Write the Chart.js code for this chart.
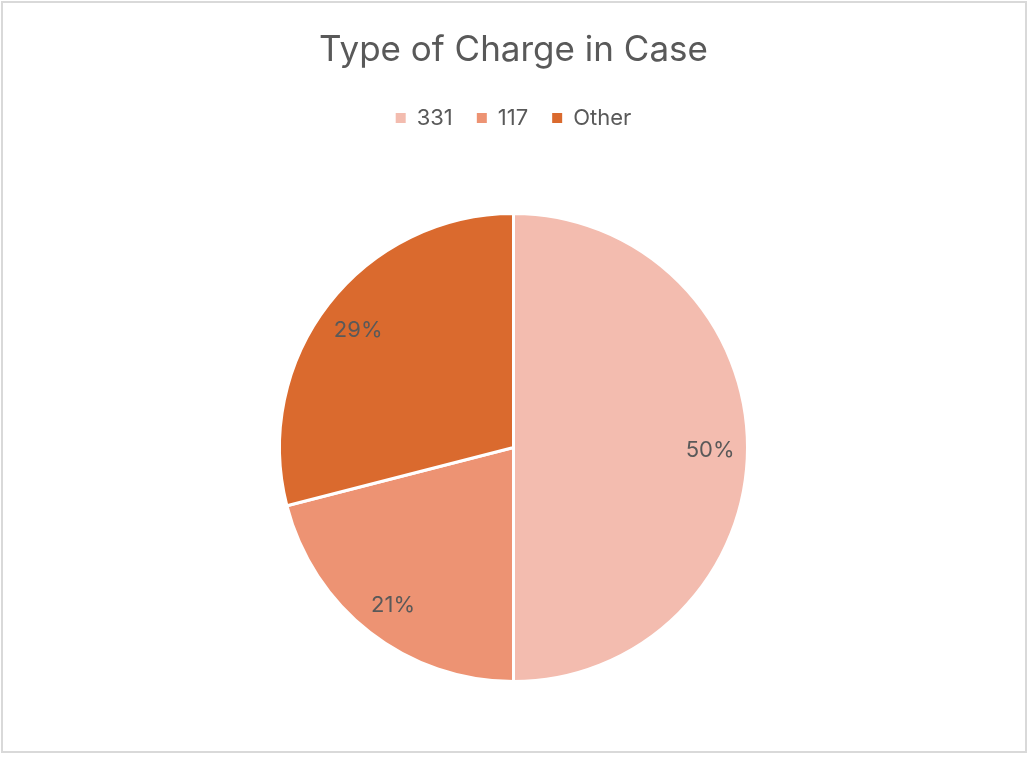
<!DOCTYPE html>
<html>
<head>
<meta charset="utf-8">
<script src="https://cdn.jsdelivr.net/npm/chart.js@4.4.1/dist/chart.umd.min.js"></script>
<style>
  body { margin: 0; background: #fff; }
  #frame {
    position: absolute; left: 1px; top: 1px; width: 1026px; height: 752px;
    box-sizing: border-box; border: 2px solid #d9d9d9;
  }
  #wrap { position: absolute; left: 0; top: 0; width: 1030px; height: 757px; }
</style>
</head>
<body>
<div id="frame"></div>
<div id="wrap"><canvas id="chart"></canvas></div>
<script>
const categories = ["331", "117", "Other"];
const shares = [50, 21, 29]; // percent of cases
const sliceColors = ["#F3BCAF", "#ED9373", "#DA6A2E"];

const TEXT = "#595959";
const FONT = "Inter, 'Open Sans', sans-serif";

// percentage labels placed inside each slice
const sliceLabels = {
    id: "sliceLabels",
    afterDatasetsDraw(chart) {
        const ctx = chart.ctx;
        const meta = chart.getDatasetMeta(0);
        const total = shares.reduce((a, b) => a + b, 0);
        ctx.save();
        ctx.font = "22px " + FONT;
        ctx.fillStyle = TEXT;
        ctx.textAlign = "center";
        ctx.textBaseline = "middle";
        meta.data.forEach((arc, i) => {
            const p = arc.getProps(["x", "y", "startAngle", "endAngle", "outerRadius"], true);
            const mid = (p.startAngle + p.endAngle) / 2;
            const r = p.outerRadius * 0.84;
            const pct = Math.round(shares[i] / total * 100) + "%";
            // +3 nudges the digits' visual centre onto the anchor point
            ctx.fillText(pct, p.x + Math.cos(mid) * r, p.y + Math.sin(mid) * r + 3);
        });
        ctx.restore();
    }
};

new Chart(document.getElementById("chart"), {
    type: "pie",
    data: {
        labels: categories,
        datasets: [{
            data: shares,
            backgroundColor: sliceColors,
            borderColor: "#ffffff",
            borderWidth: 3,
        }],
    },
    options: {
        responsive: true,
        maintainAspectRatio: false,
        animation: false,
        radius: 234,
        layout: { padding: { right: 3, bottom: 1 } },
        plugins: {
            title: {
                display: true,
                text: "Type of Charge in Case",
                color: TEXT,
                font: { family: FONT, size: 35, weight: "normal" },
                padding: { top: 29, bottom: 12 },
            },
            legend: {
                position: "top",
                labels: {
                    color: TEXT,
                    font: { family: FONT, size: 22 },
                    boxWidth: 10,
                    boxHeight: 10,
                    padding: 24,
                    generateLabels(chart) {
                        return categories.map((c, i) => ({
                            text: c,
                            fillStyle: sliceColors[i],
                            strokeStyle: sliceColors[i],
                            lineWidth: 0,
                            fontColor: TEXT,
                            index: i,
                            hidden: false,
                        }));
                    },
                },
            },
            tooltip: { enabled: false },
        },
    },
    plugins: [sliceLabels],
});
</script>
</body>
</html>
